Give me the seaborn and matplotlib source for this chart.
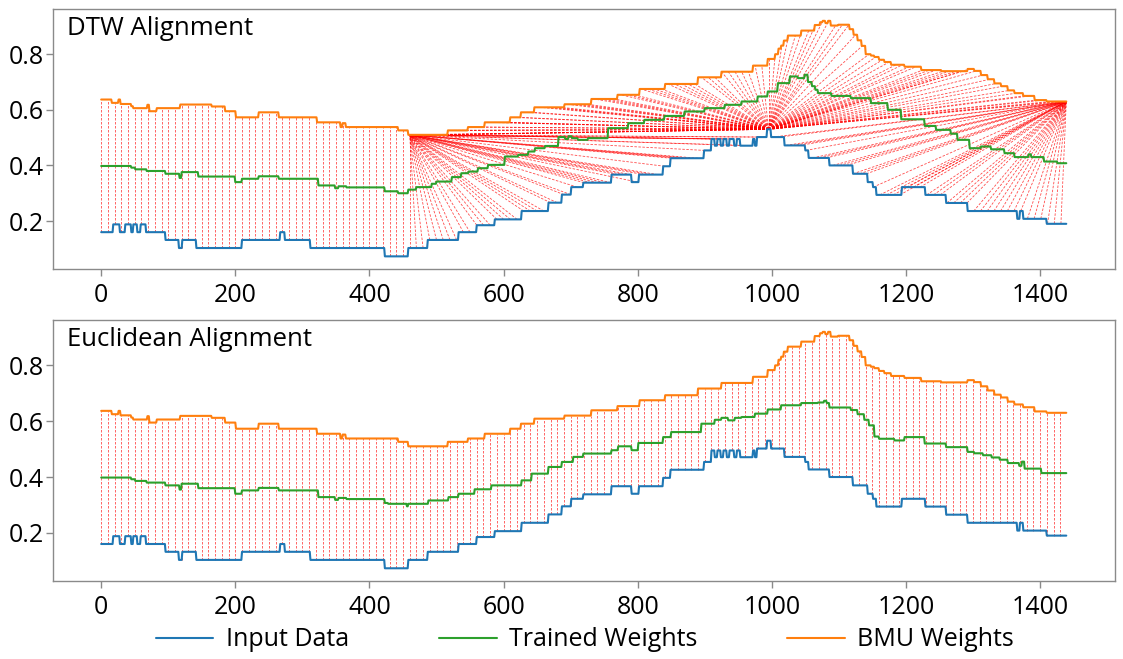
import numpy as np
import pandas as pd
import matplotlib
matplotlib.use("Agg")
import matplotlib.pyplot as plt
from matplotlib.collections import LineCollection
from matplotlib.lines import Line2D
import seaborn as sns

# ---------------------------------------------------------------------------
# Data: one value per minute of the day, stored as step changes (start, value)
# ---------------------------------------------------------------------------
N_POINTS = 1440

input_steps = [
    (0, 0.160), (18, 0.188), (28, 0.160), (36, 0.188), (45, 0.160), (48, 0.188),
    (54, 0.160), (59, 0.188), (67, 0.160), (96, 0.132), (116, 0.103), (121, 0.132),
    (142, 0.103), (210, 0.132), (267, 0.160), (274, 0.132), (312, 0.103),
    (423, 0.073), (458, 0.103), (487, 0.132), (533, 0.160), (560, 0.185),
    (587, 0.206), (627, 0.236), (667, 0.266), (687, 0.295), (701, 0.322),
    (719, 0.338), (761, 0.367), (791, 0.340), (802, 0.367), (838, 0.397),
    (849, 0.426), (899, 0.454), (910, 0.495), (915, 0.471), (919, 0.495),
    (924, 0.471), (928, 0.495), (933, 0.471), (937, 0.495), (944, 0.471),
    (948, 0.495), (953, 0.471), (972, 0.495), (975, 0.471), (978, 0.502),
    (993, 0.530), (999, 0.502), (1019, 0.472), (1050, 0.454), (1055, 0.427),
    (1086, 0.400), (1121, 0.370), (1143, 0.340), (1151, 0.322), (1156, 0.294),
    (1194, 0.322), (1229, 0.294), (1260, 0.265), (1292, 0.236), (1366, 0.208),
    (1370, 0.236), (1375, 0.208), (1410, 0.190),
]

bmu_steps = [
    (0, 0.637), (16, 0.625), (26, 0.637), (29, 0.621), (45, 0.613), (48, 0.606),
    (69, 0.618), (72, 0.595), (83, 0.606), (118, 0.619), (165, 0.612),
    (185, 0.595), (201, 0.573), (235, 0.591), (265, 0.573), (322, 0.555),
    (357, 0.538), (360, 0.552), (365, 0.538), (443, 0.526), (458, 0.510),
    (517, 0.526), (547, 0.538), (572, 0.555), (610, 0.573), (626, 0.591),
    (646, 0.609), (691, 0.620), (731, 0.639), (770, 0.654), (803, 0.675),
    (841, 0.693), (890, 0.717), (925, 0.737), (972, 0.759), (994, 0.783),
    (1005, 0.800), (1010, 0.820), (1014, 0.831), (1018, 0.849), (1024, 0.867),
    (1044, 0.885), (1064, 0.905), (1072, 0.915), (1076, 0.920), (1080, 0.912),
    (1084, 0.920), (1088, 0.903), (1099, 0.906), (1116, 0.890), (1122, 0.870),
    (1128, 0.850), (1134, 0.830), (1140, 0.800), (1148, 0.795), (1153, 0.790),
    (1160, 0.780), (1168, 0.772), (1178, 0.762), (1198, 0.755), (1223, 0.743),
    (1253, 0.739), (1292, 0.747), (1302, 0.740), (1312, 0.725), (1322, 0.710),
    (1332, 0.695), (1342, 0.685), (1352, 0.670), (1362, 0.660), (1375, 0.650),
    (1392, 0.635), (1410, 0.630),
]

# weights trained with the Euclidean distance
euclid_trained_steps = [
    (0, 0.398), (45, 0.392), (51, 0.386), (68, 0.380), (96, 0.370), (117, 0.355),
    (120, 0.376), (145, 0.360), (200, 0.340), (210, 0.352), (235, 0.361),
    (265, 0.352), (324, 0.328), (349, 0.318), (354, 0.325), (366, 0.321),
    (423, 0.307), (428, 0.304), (456, 0.295), (458, 0.304), (488, 0.316),
    (518, 0.328), (533, 0.340), (557, 0.356), (582, 0.370), (627, 0.388),
    (642, 0.412), (667, 0.436), (687, 0.454), (704, 0.472), (719, 0.484),
    (761, 0.496), (771, 0.510), (791, 0.496), (801, 0.522), (838, 0.543),
    (850, 0.561), (895, 0.591), (915, 0.605), (925, 0.612), (935, 0.603),
    (945, 0.612), (955, 0.615), (975, 0.627), (994, 0.642), (1014, 0.657),
    (1044, 0.665), (1069, 0.667), (1078, 0.673), (1082, 0.665), (1086, 0.649),
    (1118, 0.640), (1128, 0.625), (1138, 0.605), (1145, 0.585), (1153, 0.545),
    (1160, 0.537), (1183, 0.531), (1198, 0.543), (1228, 0.520), (1260, 0.507),
    (1292, 0.490), (1302, 0.485), (1315, 0.478), (1328, 0.470), (1340, 0.462),
    (1352, 0.450), (1369, 0.440), (1373, 0.455), (1377, 0.430), (1402, 0.414),
]

# weights trained with the DTW distance
dtw_trained_steps = [
    (0, 0.398), (45, 0.392), (51, 0.386), (68, 0.380), (96, 0.370), (117, 0.355),
    (120, 0.376), (145, 0.360), (200, 0.340), (210, 0.352), (235, 0.361),
    (265, 0.352), (324, 0.328), (349, 0.318), (354, 0.325), (366, 0.321),
    (423, 0.307), (443, 0.300), (458, 0.313), (470, 0.322), (493, 0.334),
    (500, 0.342), (523, 0.358), (537, 0.372), (548, 0.378), (562, 0.390),
    (577, 0.402), (602, 0.432), (622, 0.438), (637, 0.450), (647, 0.462),
    (662, 0.470), (682, 0.502), (692, 0.495), (697, 0.505), (702, 0.498),
    (711, 0.492), (726, 0.498), (756, 0.534), (786, 0.552), (810, 0.564),
    (840, 0.578), (870, 0.594), (900, 0.606), (930, 0.618), (955, 0.630),
    (979, 0.648), (994, 0.666), (1009, 0.696), (1027, 0.720), (1039, 0.714),
    (1049, 0.726), (1054, 0.700), (1060, 0.685), (1065, 0.672), (1069, 0.660),
    (1089, 0.650), (1118, 0.642), (1148, 0.624), (1173, 0.600), (1193, 0.566),
    (1228, 0.542), (1245, 0.528), (1267, 0.514), (1277, 0.492), (1295, 0.462),
    (1312, 0.468), (1327, 0.458), (1347, 0.444), (1362, 0.430), (1383, 0.440),
    (1387, 0.430), (1406, 0.414), (1426, 0.408),
]

# corners of the DTW warping path (input index, BMU index)
dtw_path_corners = [(0, 0), (460, 460), (995, 460), (995, 1439), (1439, 1439)]
LINK_EVERY = 10

series_names = ["Input Data", "Trained Weights", "BMU Weights"]
series_colors = ["#1f77b4", "#2ca02c", "#ff7f0e"]
x_ticks = [0, 200, 400, 600, 800, 1000, 1200, 1400]
y_ticks = [0.2, 0.4, 0.6, 0.8]


def expand_steps(steps, n=N_POINTS):
    starts = [s for s, _ in steps] + [n]
    values = [v for _, v in steps]
    return np.repeat(values, np.diff(starts))


def walk_path(corners):
    pairs = [corners[0]]
    for (i0, j0), (i1, j1) in zip(corners[:-1], corners[1:]):
        n = max(i1 - i0, j1 - j0)
        for k in range(1, n + 1):
            pairs.append((i0 + min(k, i1 - i0), j0 + min(k, j1 - j0)))
    return np.array(pairs)


t = np.arange(N_POINTS)
input_data = expand_steps(input_steps)
bmu = expand_steps(bmu_steps)
trained_dtw = expand_steps(dtw_trained_steps)
trained_euc = expand_steps(euclid_trained_steps)

dtw_pairs = walk_path(dtw_path_corners)[::LINK_EVERY]
euc_idx = np.arange(0, N_POINTS, LINK_EVERY)
euc_pairs = np.column_stack([euc_idx, euc_idx])

# ---------------------------------------------------------------------------
# Styling
# ---------------------------------------------------------------------------
sns.set_theme(style="white")
plt.rcParams["font.family"] = ["Open Sans", "DejaVu Sans"]
plt.rcParams["axes.edgecolor"] = "#8a8a8a"
plt.rcParams["axes.linewidth"] = 1.0

fig = plt.figure(figsize=(11.23, 6.59), dpi=100)
ax_top = fig.add_axes([0.0471, 0.5918, 0.9454, 0.3945])
ax_bot = fig.add_axes([0.0471, 0.1184, 0.9454, 0.3960])

palette = dict(zip(series_names, series_colors))


def draw_panel(ax, trained, pairs, title):
    segs = np.stack([
        np.column_stack([pairs[:, 0], input_data[pairs[:, 0]]]),
        np.column_stack([pairs[:, 1], bmu[pairs[:, 1]]]),
    ], axis=1)
    links = LineCollection(segs, colors="red", linewidths=0.6,
                           linestyles=(0, (3.0, 1.8)), alpha=0.7, zorder=1)
    ax.add_collection(links)

    df = pd.DataFrame({
        "t": np.concatenate([t, t, t]),
        "value": np.concatenate([input_data, trained, bmu]),
        "series": np.repeat(series_names, N_POINTS),
    })
    sns.lineplot(data=df, x="t", y="value", hue="series", palette=palette,
                 estimator=None, linewidth=1.5, legend=False, ax=ax, zorder=3)

    ax.set_xlim(-72, 1511)
    ax.set_ylim(0.0275, 0.9625)
    ax.set_xticks(x_ticks)
    ax.set_yticks(y_ticks)
    ax.set_yticklabels([f"{v:.1f}" for v in y_ticks])
    ax.set_xlabel("")
    ax.set_ylabel("")
    ax.tick_params(axis="both", labelsize=18, length=5, width=1,
                   color="#8a8a8a", labelcolor="black", direction="out",
                   bottom=True, left=True)
    ax.tick_params(axis="y", pad=1.5)
    ax.tick_params(axis="x", pad=5)
    ax.text(0.013, 0.975, title, transform=ax.transAxes, fontsize=18.5,
            color="black", ha="left", va="top", zorder=5,
            bbox=dict(facecolor="white", edgecolor="none", pad=2))


draw_panel(ax_top, trained_dtw, dtw_pairs, "DTW Alignment")
draw_panel(ax_bot, trained_euc, euc_pairs, "Euclidean Alignment")

handles = [Line2D([0], [0], color=c, lw=1.5) for c in series_colors]
fig.legend(handles, series_names, loc="lower center", ncol=3, frameon=False,
           bbox_to_anchor=(0.521, -0.024), fontsize=18, handlelength=2.3,
           handletextpad=0.5, columnspacing=3.6, labelcolor="black")

fig.savefig("out.png", dpi=100, facecolor="white")
